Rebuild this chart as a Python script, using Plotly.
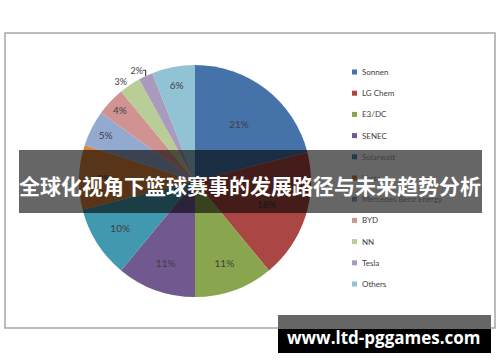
import plotly.graph_objects as go

labels = ["Sonnen", "LG Chem", "E3/DC", "SENEC", "Solarwatt", "Varta",
          "Mercedes Benz Energy", "BYD", "NN", "Tesla", "Others"]
values = [21, 18, 11, 11, 10, 9, 5, 4, 3, 2, 6]
colors = ["#4572A8", "#AA4643", "#89A54E", "#71588F", "#4198AF", "#DB843D",
          "#93A9CF", "#D19392", "#B9CD96", "#A99BBD", "#92C3D4"]
text_pos = ["inside", "inside", "inside", "inside", "inside", "inside",
            "inside", "inside", "outside", "outside", "inside"]

banner_title = "全球化视角下篮球赛事的发展路径与未来趋势分析"
site_text = "www.ltd-pggames.com"

W, H = 500, 362
cx, cy, r = 195, 181, 116

fig = go.Figure(go.Pie(
    labels=labels, values=values, sort=False, direction="clockwise", rotation=0,
    marker=dict(colors=colors, line=dict(width=0)),
    texttemplate="%{percent:.0%}", textposition=text_pos,
    insidetextorientation="horizontal",
    textfont=dict(family="Lato, sans-serif", size=10, color="#404040"),
    outsidetextfont=dict(family="Lato, sans-serif", size=9, color="#404040"),
    domain=dict(x=[(cx - r) / W, (cx + r) / W], y=[(H - cy - r) / H, (H - cy + r) / H]),
    showlegend=False, hoverinfo="label+percent",
))

shapes = []
annotations = []

# chart area border
shapes.append(dict(type="rect", xref="paper", yref="paper",
                   x0=5 / W, x1=495 / W, y0=1 - 328 / H, y1=1 - 33 / H,
                   line=dict(color="#A6A6A6", width=1.5), fillcolor="rgba(0,0,0,0)", layer="below"))

# manual legend built from label/color lists
leg_x, leg_y0, leg_dy = 352, 72, 21.2
for i, (lab, col) in enumerate(zip(labels, colors)):
    y = leg_y0 + i * leg_dy
    shapes.append(dict(type="rect", xref="paper", yref="paper",
                       x0=leg_x / W, x1=(leg_x + 5) / W,
                       y0=1 - (y + 2.5) / H, y1=1 - (y - 2.5) / H,
                       fillcolor=col, line=dict(width=0)))
    annotations.append(dict(text=lab, xref="paper", yref="paper",
                            x=(leg_x + 8) / W, y=1 - y / H, xanchor="left", yanchor="middle",
                            showarrow=False, font=dict(family="Lato, sans-serif", size=8, color="#404040")))

# dark overlay banner
shapes.append(dict(type="rect", xref="paper", yref="paper",
                   x0=19 / W, x1=482 / W, y0=1 - 213 / H, y1=1 - 150 / H,
                   fillcolor="rgba(0,0,0,0.6)", line=dict(width=0), layer="above"))
annotations.append(dict(text="<b>" + banner_title + "</b>", xref="paper", yref="paper",
                        x=250 / W, y=1 - 185 / H, xanchor="center", yanchor="middle", showarrow=False,
                        font=dict(family="Noto Sans CJK SC, sans-serif", size=21, color="white")))

# bottom site banner
shapes.append(dict(type="rect", xref="paper", yref="paper",
                   x0=278 / W, x1=491 / W, y0=1 - 329 / H, y1=1 - 315 / H,
                   fillcolor="#666666", line=dict(width=0), layer="above"))
shapes.append(dict(type="rect", xref="paper", yref="paper",
                   x0=278 / W, x1=491 / W, y0=1 - 353 / H, y1=1 - 329 / H,
                   fillcolor="#000000", line=dict(width=0), layer="above"))
annotations.append(dict(text="<b>" + site_text + "</b>", xref="paper", yref="paper",
                        x=384 / W, y=1 - 337 / H, xanchor="center", yanchor="middle", showarrow=False,
                        font=dict(family="Open Sans, sans-serif", size=17, color="white")))

fig.update_layout(width=W, height=H, margin=dict(l=0, r=0, t=0, b=0),
                  paper_bgcolor="white", plot_bgcolor="white",
                  shapes=shapes, annotations=annotations)

fig.write_html("out.html")
